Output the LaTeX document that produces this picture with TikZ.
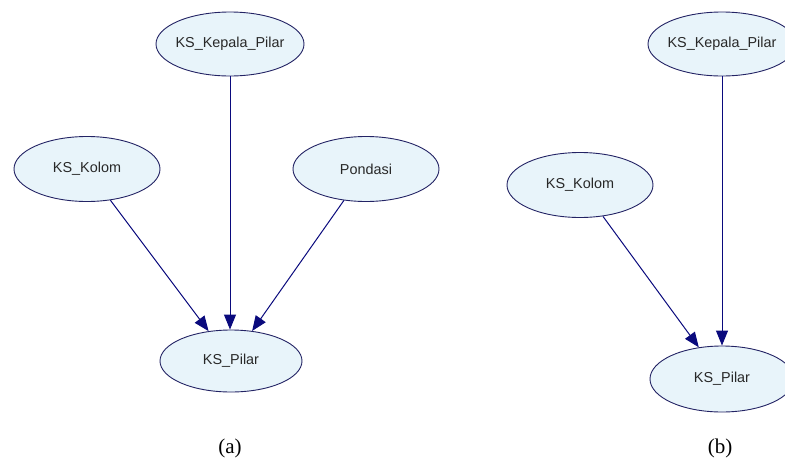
\documentclass[tikz,border=0pt]{standalone}
\usepackage{fontspec}
\setmainfont{Liberation Serif}
\setsansfont{Liberation Sans}
\usetikzlibrary{shapes.geometric,arrows.meta}
\definecolor{nodefill}{RGB}{232,244,250}
\definecolor{nodeedge}{RGB}{35,35,100}
\definecolor{linkcol}{RGB}{10,10,125}
\definecolor{nodetext}{RGB}{40,40,40}
\tikzset{
  var/.style={ellipse, draw=nodeedge, fill=nodefill, line width=0.9pt,
    inner sep=0pt, minimum width=146pt, minimum height=65pt,
    font=\sffamily\fontsize{14.4}{17}\selectfont, text=nodetext},
  link/.style={draw=linkcol, line width=1pt,
    -{Triangle[length=15pt,width=12pt]}},
  caption/.style={font=\fontsize{21}{24}\selectfont}
}
\newcommand{\vname}[1]{\makebox[0pt]{#1}}
\begin{document}
\begin{tikzpicture}[x=1pt,y=-1pt]
  \useasboundingbox (0,0) rectangle (785,475);
  \clip (0,0) rectangle (785,475);
  % panel (a)
  \node[var, minimum width=148pt, minimum height=64pt] (akep) at (230,44) {\vname{KS\_Kepala\_Pilar}};
  \node[var] (akol) at (87,169) {\vname{KS\_Kolom}};
  \node[var] (apon) at (366,169) {\vname{Pondasi}};
  \node[var, minimum width=142pt, minimum height=62pt] (apil) at (231,361) {\vname{KS\_Pilar}};
  \draw[link] (akol) -- (apil);
  \draw[link] (akep.south) -- (apil.north -| akep.south);
  \draw[link] (apon) -- (apil);
  \node[caption] (capa) at (230,448) {(a)};
  % panel (b)
  \node[var, minimum width=148pt, minimum height=64pt] (bkep) at (722,44) {\vname{KS\_Kepala\_Pilar}};
  \node[var] (bkol) at (580,185) {\vname{KS\_Kolom}};
  \node[var, minimum width=144pt, minimum height=66pt] (bpil) at (722,379) {\vname{KS\_Pilar}};
  \draw[link] (bkol) -- (bpil);
  \draw[link] (bkep) -- (bpil);
  \node[caption] (capb) at (720,448) {(b)};
\end{tikzpicture}
\end{document}
